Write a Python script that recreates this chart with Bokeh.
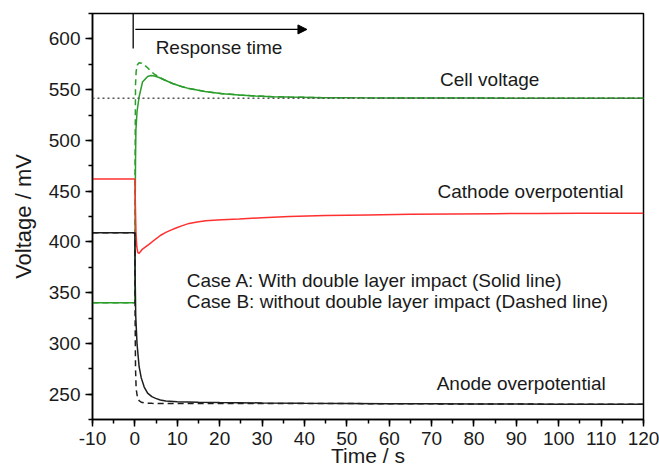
from bokeh.plotting import figure
from bokeh.models import Range1d, SingleIntervalTicker, Label, Arrow, NormalHead, Span, PrintfTickFormatter
from bokeh.embed import file_html
from bokeh.resources import INLINE

# ---- data ----
t_cell_a = [-10, 0, 0.05, 0.15, 0.24, 0.5, 1.0, 1.8, 3.0, 3.8, 4.6, 5.7, 7.0, 8.9, 10.8, 12.8,
            16.5, 20.7, 24.5, 28.5, 32.5, 36.4, 44.3, 52, 60, 70, 80, 90, 100, 110, 120]
v_cell_a = [340, 340, 420, 480, 510, 528, 543, 557.5, 563, 564, 563.5, 562, 559.5, 556, 553.3, 551,
            548.2, 546, 544.8, 543.7, 543.1, 542.7, 542.1, 541.9, 541.8, 541.7, 541.7, 541.6, 541.6, 541.6, 541.6]

t_cell_b = [-10, 0, 0.05, 0.15, 0.3, 0.6, 1.0, 1.6, 2.3, 3.0, 3.8, 4.5, 5.7, 7.0, 8.9, 10.8, 12.8,
            16.5, 20.7, 24.5, 28.5, 32.5, 36.4, 44.3, 52, 60, 70, 80, 90, 100, 110, 120]
v_cell_b = [340, 340, 480, 555, 568, 574.5, 576.5, 576, 574, 571.5, 568, 565.5, 562.3, 559.5, 556, 553.3, 551,
            548.2, 546, 544.8, 543.7, 543.1, 542.7, 542.1, 541.9, 541.8, 541.7, 541.7, 541.6, 541.6, 541.6, 541.6]

t_cath = [-10, 0, 0.1, 0.25, 0.45, 0.7, 1.0, 1.8, 2.6, 3.4, 4.9, 6.0, 7.3, 8.5, 9.7, 11.2, 12.8,
          14.7, 16.7, 20.5, 24.6, 30, 36.4, 45, 55, 65, 75, 85, 95, 105, 120]
v_cath = [462, 462, 440, 410, 395, 389.5, 388.8, 392.9, 395.4, 397.8, 402.8, 406.3, 409.3, 411.6, 413.6, 416, 418.2,
          419.6, 420.8, 421.8, 422.5, 423.8, 425, 425.9, 426.6, 427.1, 427.5, 427.8, 428, 428.1, 428.2]

t_anode_a = [-10, 0, 0.05, 0.2, 0.5, 1.0, 1.5, 2.2, 3.0, 4.0, 4.9, 6.0, 7.3, 10, 15, 20, 30, 40,
             50, 60, 70, 80, 90, 100, 110, 120]
v_anode_a = [409, 409, 370, 327, 300, 277, 266, 257, 251, 247.5, 245.8, 244.2, 243.2, 242.6, 242.1, 241.8, 241.3, 240.9,
             240.7, 240.5, 240.4, 240.3, 240.2, 240.1, 240.0, 240.0]

t_anode_b = [-10, 0, 0.05, 0.15, 0.3, 0.6, 1.0, 1.5, 2.2, 3.0, 4.0, 6, 10, 20, 30, 40, 50, 60, 70,
             80, 90, 100, 110, 120]
v_anode_b = [409, 409, 330, 275, 255, 247, 243.5, 242, 241.3, 241, 240.9, 240.8, 240.8, 240.8, 240.8, 240.8, 240.7,
             240.5, 240.4, 240.3, 240.2, 240.1, 240.0, 240.0]

steady_cell_voltage = 541.6

x_ticks_interval = 10
y_ticks_interval = 50

FONT = "Liberation Sans"
GREEN = "#2a9d2a"
RED = "#ff3030"
BLACK = "#1e1e1e"

p = figure(width=659, height=474, output_backend="svg", toolbar_location=None,
           x_range=Range1d(-10, 120), y_range=Range1d(225, 625),
           min_border_left=92, min_border_right=16, min_border_top=13, min_border_bottom=55)

p.xgrid.visible = False
p.ygrid.visible = False
p.outline_line_color = "black"
p.outline_line_width = 1.5
p.background_fill_color = "white"
p.border_fill_color = "white"

p.xaxis.ticker = SingleIntervalTicker(interval=x_ticks_interval, num_minor_ticks=2)
p.yaxis.ticker = SingleIntervalTicker(interval=y_ticks_interval, num_minor_ticks=2)
p.xaxis.formatter = PrintfTickFormatter(format="%d")
p.yaxis.formatter = PrintfTickFormatter(format="%d")
for ax in (p.xaxis[0], p.yaxis[0]):
    ax.axis_line_width = 1.5
    ax.axis_line_color = "black"
    ax.major_tick_line_width = 1.5
    ax.minor_tick_line_width = 1.5
    ax.major_tick_in = 0
    ax.major_tick_out = 7
    ax.minor_tick_in = 0
    ax.minor_tick_out = 4
    ax.major_label_text_font = FONT
    ax.major_label_text_font_size = "19px"
    ax.major_label_text_color = "#1a1a1a"
    ax.major_label_standoff = 5
    ax.axis_label_text_font = FONT
    ax.axis_label_text_font_style = "normal"
    ax.axis_label_text_color = "#1a1a1a"

p.yaxis.axis_label = "Voltage / mV"
p.yaxis.axis_label_text_font_size = "22px"
p.yaxis.axis_label_standoff = 10

p.xaxis.axis_label = "Time / s"
p.xaxis.axis_label_text_font_size = "21px"
p.xaxis.axis_label_standoff = -4

# reference line
p.add_layout(Span(location=steady_cell_voltage, dimension="width", line_color="#555555",
                  line_width=1.5, line_dash="2 3"))

# curves
p.line(t_cell_b, v_cell_b, line_color=GREEN, line_width=1.5, line_dash="6 4")
p.line(t_cell_a, v_cell_a, line_color=GREEN, line_width=1.5)
p.line(t_cath, v_cath, line_color=RED, line_width=1.5)
p.line(t_anode_b, v_anode_b, line_color=BLACK, line_width=1.5, line_dash="6 4")
p.line(t_anode_a, v_anode_a, line_color=BLACK, line_width=1.5)

# response-time annotation
p.add_layout(Arrow(end=None, x_start=-0.4, y_start=625, x_end=-0.4, y_end=590.5,
                   line_color="black", line_width=1.3))
p.add_layout(Arrow(end=NormalHead(size=9, fill_color="black", line_color="black", line_width=1),
                   x_start=0.1, y_start=609.3, x_end=40.6, y_end=609.3,
                   line_color="black", line_width=1.3))

def lab(x, y, text, size="19px", align="left"):
    p.add_layout(Label(x=x, y=y, text=text, text_font=FONT, text_font_size=size,
                       text_baseline="alphabetic", text_align=align, text_color="#1a1a1a"))

lab(4.9, 591.3, "Response time")
lab(72.0, 559.8, "Cell voltage")
lab(71.4, 449.9, "Cathode overpotential")
lab(71.2, 260.7, "Anode overpotential")
lab(12.25, 362.3, "Case A: With double layer impact (Solid line)")
lab(12.25, 341.7, "Case B: without double layer impact (Dashed line)")

open("out.html", "w").write(file_html(p, INLINE))
